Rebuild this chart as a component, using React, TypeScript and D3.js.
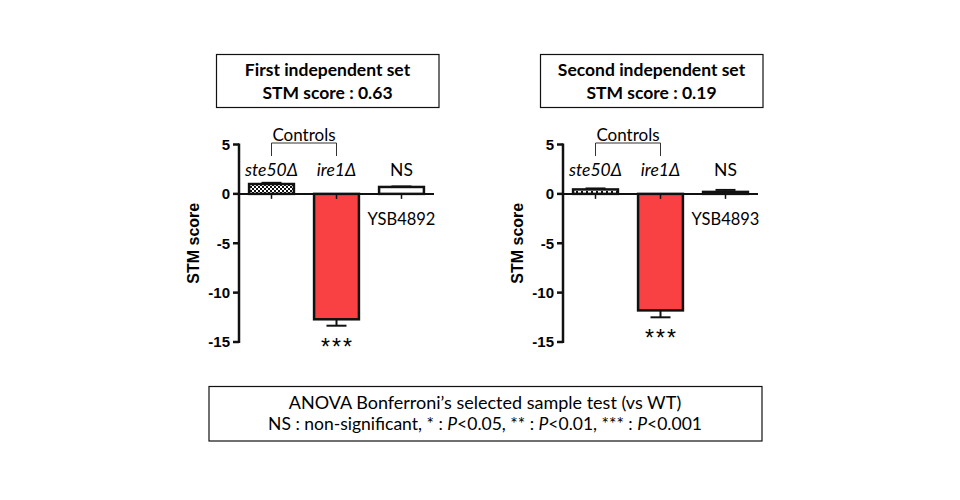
import React from "react";
import * as d3 from "d3";

const barLabels = ["ste50Δ", "ire1Δ", "NS"];
const italicLabels = [true, true, false];
const yTicks = [5, 0, -5, -10, -15];

const panelTitles = ["First independent set", "Second independent set"];
const panelScores = ["0.63", "0.19"];
const strainNames = ["YSB4892", "YSB4893"];

const set1Means = [1.0, -12.7, 0.7];
const set1Errors = [0.12, 0.65, 0.05];
const set2Means = [0.45, -11.8, 0.2];
const set2Errors = [0.1, 0.7, 0.2];

const panelMeans = [set1Means, set2Means];
const panelErrors = [set1Errors, set2Errors];
const panelX = [239, 563];

const textFont = "Lato, 'Open Sans', sans-serif";
const axisFont = "'Liberation Sans', Arial, sans-serif";

type PanelProps = {
  idx: number;
  x0: number;
};

function Panel({ idx, x0 }: PanelProps) {
  const means = panelMeans[idx];
  const errors = panelErrors[idx];
  const y = d3.scaleLinear().domain([5, -15]).range([144.5, 342]);
  const x = d3
    .scaleBand<string>()
    .domain(barLabels)
    .range([x0, x0 + 195])
    .paddingInner(0.31)
    .paddingOuter(0.155);
  const bw = x.bandwidth();
  const cx = (i: number) => (x(barLabels[i]) ?? 0) + bw / 2;
  const fills = [
    idx === 0 ? "url(#checker)" : "url(#dots)",
    "#f94144",
    idx === 0 ? "white" : "#111",
  ];
  const redErrEnd = y(means[1] - errors[1]);

  return (
    <g>
      {/* title box */}
      <rect
        x={x0 - 22.5}
        y={54.5}
        width={222.5}
        height={53}
        fill="white"
        stroke="#111"
        strokeWidth={1.2}
      />
      <text
        x={x0 + 88.5}
        y={76}
        textAnchor="middle"
        fontFamily={textFont}
        fontWeight="bold"
        fontSize={17.5}
      >
        {panelTitles[idx]}
      </text>
      <text
        x={x0 + 88.5}
        y={99}
        textAnchor="middle"
        fontFamily={textFont}
        fontWeight="bold"
        fontSize={17.5}
      >
        STM score : {panelScores[idx]}
      </text>

      {/* bars */}
      {means.map((m, i) => {
        const top = y(Math.max(0, m));
        const bottom = y(Math.min(0, m));
        const errY = y(m + (m >= 0 ? errors[i] : -errors[i]));
        const edge = m >= 0 ? top : bottom;
        return (
          <g key={i}>
            <line
              x1={cx(i)}
              x2={cx(i)}
              y1={edge}
              y2={errY}
              stroke="#111"
              strokeWidth={2}
            />
            <line
              x1={cx(i) - 10}
              x2={cx(i) + 10}
              y1={errY}
              y2={errY}
              stroke="#111"
              strokeWidth={2}
            />
            <rect
              x={x(barLabels[i])}
              y={top}
              width={bw}
              height={Math.max(bottom - top, 0.5)}
              fill={fills[i]}
              stroke="#111"
              strokeWidth={2.5}
            />
            <line
              x1={cx(i)}
              x2={cx(i)}
              y1={y(0)}
              y2={y(0) + 5}
              stroke="#111"
              strokeWidth={1.5}
            />
            <text
              x={cx(i)}
              y={176}
              textAnchor="middle"
              fontFamily={textFont}
              fontStyle={italicLabels[i] ? "italic" : "normal"}
              fontSize={17.5}
            >
              {barLabels[i]}
            </text>
          </g>
        );
      })}

      {/* axes */}
      <line
        x1={x0}
        x2={x0 + 195}
        y1={y(0)}
        y2={y(0)}
        stroke="#111"
        strokeWidth={2}
      />
      <line
        x1={x0}
        x2={x0}
        y1={y(5) - 1}
        y2={y(-15) + 1}
        stroke="#111"
        strokeWidth={2.5}
      />
      {yTicks.map((t) => (
        <g key={t}>
          <line
            x1={x0 - 6}
            x2={x0}
            y1={y(t)}
            y2={y(t)}
            stroke="#111"
            strokeWidth={2.5}
          />
          <text
            x={x0 - 9}
            y={y(t)}
            dy="0.36em"
            textAnchor="end"
            fontFamily={axisFont}
            fontWeight="bold"
            fontSize={15}
          >
            {t}
          </text>
        </g>
      ))}
      <text
        transform={`translate(${x0 - 46},${y(-5)}) rotate(-90)`}
        textAnchor="middle"
        dy="0.35em"
        fontFamily={axisFont}
        fontWeight="bold"
        fontSize={16}
      >
        STM score
      </text>

      {/* controls bracket */}
      <path
        d={`M${cx(0)},156V143H${cx(1)}V156`}
        fill="none"
        stroke="#333"
        strokeWidth={1}
      />
      <text
        x={(cx(0) + cx(1)) / 2}
        y={141}
        textAnchor="middle"
        fontFamily={textFont}
        fontSize={17}
      >
        Controls
      </text>

      <text
        x={cx(2)}
        y={225}
        textAnchor="middle"
        fontFamily={textFont}
        fontSize={16.5}
      >
        {strainNames[idx]}
      </text>
      <text
        x={cx(1) + 1}
        y={redErrEnd + 29}
        textAnchor="middle"
        fontFamily={axisFont}
        fontSize={23}
        letterSpacing={2}
      >
        ***
      </text>
    </g>
  );
}

export default function App() {
  return (
    <svg width={960} height={500} style={{ position: "absolute", left: 0, top: 0 }}>
      <defs>
        <pattern id="checker" width={4} height={4} patternUnits="userSpaceOnUse">
          <rect width={4} height={4} fill="white" />
          <rect width={2} height={2} fill="#111" />
          <rect x={2} y={2} width={2} height={2} fill="#111" />
        </pattern>
        <pattern id="dots" width={5} height={5} patternUnits="userSpaceOnUse">
          <rect width={5} height={5} fill="white" />
          <rect x={1} y={1} width={2} height={2} fill="#111" />
        </pattern>
      </defs>
      <rect width={960} height={500} fill="white" />
      {panelX.map((x0, i) => (
        <Panel key={i} idx={i} x0={x0} />
      ))}
      <rect
        x={209}
        y={386.5}
        width={553}
        height={54.5}
        fill="white"
        stroke="#111"
        strokeWidth={1.2}
      />
      <text
        x={485}
        y={409}
        textAnchor="middle"
        fontFamily={textFont}
        fontSize={18}
      >
        ANOVA Bonferroni’s selected sample test (vs WT)
      </text>
      <text
        x={485}
        y={430}
        textAnchor="middle"
        fontFamily={textFont}
        fontSize={17.5}
      >
        NS : non-significant, * : <tspan fontStyle="italic">P</tspan>&lt;0.05, ** :{" "}
        <tspan fontStyle="italic">P</tspan>&lt;0.01, *** :{" "}
        <tspan fontStyle="italic">P</tspan>&lt;0.001
      </text>
    </svg>
  );
}
